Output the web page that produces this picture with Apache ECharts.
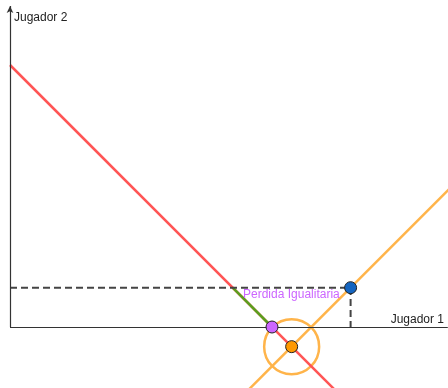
<!DOCTYPE html>
<html>
<head>
<meta charset="utf-8">
<script src="https://cdn.jsdelivr.net/npm/echarts@6/dist/echarts.min.js"></script>
<style>
  html, body { margin: 0; padding: 0; background: #fff; }
  #chart { width: 448px; height: 388px; }
</style>
</head>
<body>
<div id="chart"></div>
<script>
// Lines and points (units: Jugador 1 on x, Jugador 2 on y)
const redLine = [[0, 10], [12.4, -2.4]];          // x + y = 10
const orangeLine = [[9.1, -2.4], [16.8, 5.3]];    // y = x - 11.5
const greenSegment = [[8.5, 1.5], [10, 0]];
const dashedGuide = [[0, 1.5], [13, 1.5], [13, 0]];
const bluePoint = [13, 1.5];
const purplePoint = [10, 0];
const orangePoint = [10.75, -0.75];
const axisTop = 12.25;
const axisRight = 16.71;

const chart = echarts.init(document.getElementById("chart"));

const option = {
    animation: false,
    grid: { left: 10, right: 0, top: 0, bottom: 0 },
    xAxis: {
        type: 'value', min: 0, max: 438 / 26.2,
        axisLine: { show: false }, axisTick: { show: false },
        axisLabel: { show: false }, splitLine: { show: false }
    },
    yAxis: {
        type: 'value', min: -61 / 26.2, max: 327 / 26.2,
        axisLine: { show: false }, axisTick: { show: false },
        axisLabel: { show: false }, splitLine: { show: false }
    },
    graphic: [
        { type: 'text', left: 14, top: 12, style: { text: 'Jugador 2', font: '12px "Liberation Sans", Arial, sans-serif', fill: '#222' } },
        { type: 'text', right: 4, top: 314, style: { text: 'Jugador 1', font: '12px "Liberation Sans", Arial, sans-serif', fill: '#222' } },
        { type: 'text', left: 243, top: 289, z: 10, style: { text: 'Perdida Igualitaria', font: '12px "Liberation Sans", Arial, sans-serif', fill: '#cc66ff' } }
    ],
    series: [
        {
            // axes
            type: 'line', data: [], silent: true,
            markLine: {
                silent: true, animation: false, label: { show: false },
                lineStyle: { color: '#333', width: 1.2, type: 'solid' },
                data: [
                    [{ coord: [0, 0], symbol: 'none' }, { coord: [0, axisTop], symbol: 'arrow', symbolSize: [5, 7] }],
                    [{ coord: [0, 0], symbol: 'none' }, { coord: [axisRight, 0], symbol: 'none' }]
                ]
            }
        },
        {
            type: 'line', data: redLine, showSymbol: false, silent: true,
            lineStyle: { color: '#ff5555', width: 2.5 }
        },
        {
            type: 'line', data: orangeLine, showSymbol: false, silent: true,
            lineStyle: { color: '#ffb44a', width: 2.5 }
        },
        {
            type: 'line', data: greenSegment, showSymbol: false, silent: true,
            lineStyle: { color: '#5a9e1e', width: 2.5 }
        },
        {
            type: 'line', data: dashedGuide, showSymbol: false, silent: true,
            lineStyle: { color: '#444', width: 2, type: [7, 4] }
        },
        {
            // circle around the orange point
            type: 'scatter', data: [orangePoint], symbol: 'circle', symbolSize: 55, silent: true,
            itemStyle: { color: 'rgba(0,0,0,0)', borderColor: '#ffb44a', borderWidth: 2.5, opacity: 1 }
        },
        {
            type: 'scatter', data: [bluePoint], symbolSize: 12, z: 5,
            itemStyle: { color: '#1565c0', borderColor: '#222', borderWidth: 1, opacity: 1 }
        },
        {
            type: 'scatter', data: [purplePoint], symbolSize: 12, z: 5,
            itemStyle: { color: '#cc66ff', borderColor: '#222', borderWidth: 1, opacity: 1 }
        },
        {
            type: 'scatter', data: [orangePoint], symbolSize: 12, z: 5,
            itemStyle: { color: '#ff9900', borderColor: '#222', borderWidth: 1, opacity: 1 }
        }
    ]
};

chart.setOption(option);
</script>
</body>
</html>
